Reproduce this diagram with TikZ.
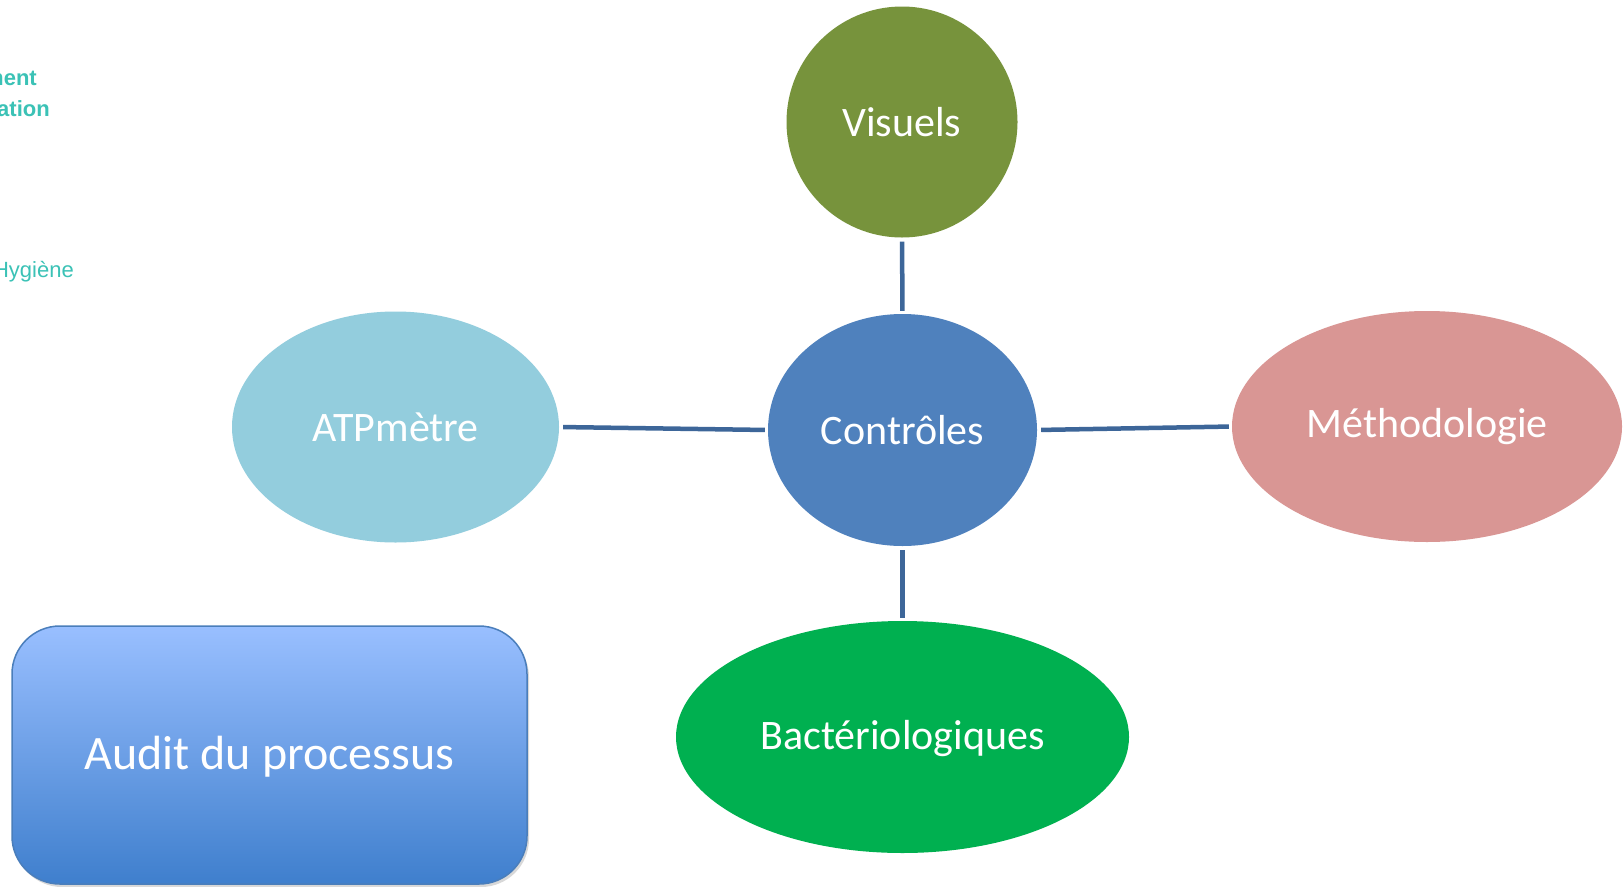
\documentclass[tikz,border=0pt]{standalone}
\usepackage{fontspec}
\setmainfont{Carlito}
\newfontfamily\arialfont{Liberation Sans}
\usetikzlibrary{shapes.geometric,shadows}
\definecolor{cvis}{HTML}{77933C}
\definecolor{cctl}{HTML}{4F81BD}
\definecolor{catp}{HTML}{93CDDD}
\definecolor{cmet}{HTML}{D99694}
\definecolor{cbac}{HTML}{00B050}
\definecolor{clink}{HTML}{3D6699}
\definecolor{cteal}{HTML}{3BC2B6}
\definecolor{cboxtop}{HTML}{99BFFF}
\definecolor{cboxbot}{HTML}{3F7FCD}
\definecolor{cboxedge}{HTML}{4A7EBB}
\begin{document}
\begin{tikzpicture}[x=1pt,y=-1pt,
  bubble/.style={ellipse,inner sep=0pt,text=white,font=\fontsize{42}{50}\selectfont},
  link/.style={draw=clink,line width=4.5pt,shorten <=4pt,shorten >=3pt},
  sidetext/.style={anchor=east,text=cteal,inner sep=0pt,font=\arialfont\fontsize{22}{26}\selectfont},
  sidebold/.style={sidetext,font=\arialfont\bfseries\fontsize{22}{26}\selectfont}]
\useasboundingbox (0,0) rectangle (1624,886);
\fill[white] (0,0) rectangle (1624,886);
% side texts (cut off at left edge, as in the reference)
\node[sidebold] (t1) at (37,78) {ment};
\node[sidebold] (t2) at (50,109) {ation};
\node[sidetext] (t3) at (74,272) {Hygiène};
% bubbles
\node[bubble,fill=cvis,minimum width=231pt,minimum height=231pt] (vis) at (902,122) {Visuels};
\node[bubble,fill=cctl,minimum width=269pt,minimum height=232pt] (ctl) at (902.5,430) {Contrôles};
\node[bubble,fill=catp,minimum width=327pt,minimum height=231pt] (atp) at (395.5,427) {ATPmètre};
\node[bubble,fill=cmet,minimum width=390pt,minimum height=231pt] (met) at (1427,426.5) {Méthodologie};
\node[bubble,fill=cbac,minimum width=453pt,minimum height=232pt,text depth=4pt] (bac) at (902.5,737) {Bactériologiques};
% links
\draw[link] (vis.south) -- (ctl.north);
\draw[link] (ctl.south) -- (bac.north);
\draw[link] (atp.east) -- (ctl.west);
\draw[link] (ctl.east) -- (met.west);
% audit box
\node[rectangle,rounded corners=48pt,minimum width=515pt,minimum height=258pt,
  top color=cboxtop,bottom color=cboxbot,draw=cboxedge,line width=1.5pt,
  drop shadow={shadow xshift=2pt,shadow yshift=-3pt,opacity=0.3},
  text=white,text depth=4pt,font=\fontsize{48}{56}\selectfont] (audit) at (269.5,755) {Audit du processus};
\end{tikzpicture}
\end{document}
